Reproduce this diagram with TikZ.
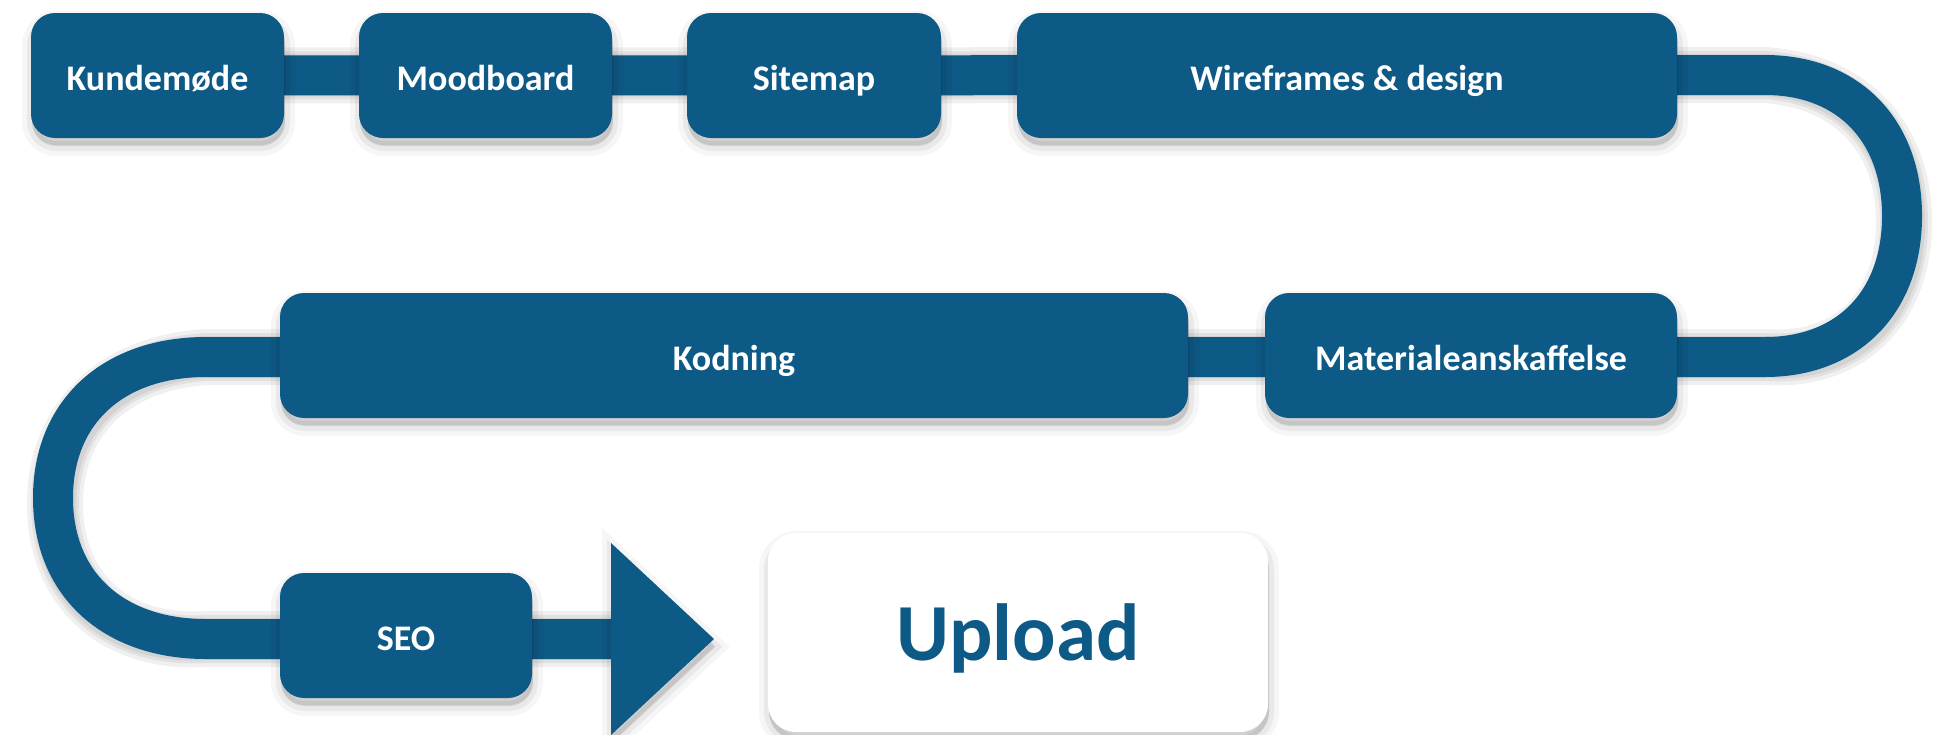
\documentclass[tikz,border=0pt]{standalone}
\usepackage{fontspec}
\setmainfont{Carlito}
\usetikzlibrary{shadows}
\definecolor{navy}{HTML}{0E5A86}
\pgfdeclarelayer{bg}
\pgfdeclarelayer{paper}
\pgfsetlayers{paper,bg,main}
\begin{document}
\begin{tikzpicture}[x=0.5pt,y=-0.5pt,
  boxshadow/.style={
    general shadow={fill=black, draw=black, line width=10pt, opacity=0.035, shadow xshift=0.5pt, shadow yshift=-4pt},
    general shadow={fill=black, draw=black, line width=5pt, opacity=0.05, shadow xshift=0.5pt, shadow yshift=-4pt},
    general shadow={fill=black, opacity=0.07, shadow xshift=0.5pt, shadow yshift=-3.5pt}},
  stepbox/.style={fill=navy, rounded corners=12pt, text=white,
    font=\bfseries\fontsize{18}{20}\selectfont, inner sep=0pt,
    minimum height=62.5pt, text height=16pt, text depth=1.5pt, boxshadow},
  endbox/.style={fill=white, rounded corners=14pt, text=navy,
    font=\bfseries\fontsize{40.5}{44}\selectfont, inner sep=0pt,
    minimum width=250pt, minimum height=99.5pt, text height=28pt, text depth=0pt, boxshadow},
  track/.style={draw=navy, line width=20pt},
  trackshadow/.style={draw=black, opacity=0.06, line width=#1},
  headshape/.style={fill=navy, boxshadow}
]
\useasboundingbox (0,0) rectangle (1946,734);
\begin{pgfonlayer}{paper}
  \fill[white] (0,0) rectangle (1946,734);
\end{pgfonlayer}

\node[stepbox, minimum width=126.5pt] (kunde) at (157.5,75.5) {Kundemøde};
\node[stepbox, minimum width=126.5pt] (mood)  at (485.5,75.5) {Moodboard};
\node[stepbox, minimum width=127pt]   (site)  at (814,75.5)   {Sitemap};
\node[stepbox, minimum width=330pt]   (wire)  at (1347,75.5)  {Wireframes \& design};
\node[stepbox, minimum width=206pt]   (mat)   at (1471,355.5) {Materialeanskaffelse};
\node[stepbox, minimum width=454pt]   (kod)   at (734,355.5)  {Kodning};
\node[stepbox, minimum width=126pt]   (seo)   at (406,635.5)  {SEO};
\node[endbox] (upload) at (1018,632.5) {Upload};

\coordinate (r1) at (1765,75);
\coordinate (r2) at (1765,357);
\coordinate (l1) at (206,357);
\coordinate (l2) at (206,639);
\coordinate (ab) at (612,639);

\def\trackpath{(kunde.center) -- (r1)
  .. controls (1848,75) and (1902,130) .. (1902,216)
  .. controls (1902,302) and (1848,357) .. (r2) -- (l1)
  .. controls (113,357) and (53,412) .. (53,498)
  .. controls (53,584) and (113,639) .. (l2) -- (ab)}

\begin{pgfonlayer}{bg}
  \begin{scope}[xshift=1pt, yshift=-3pt]
    \path[trackshadow=28pt] \trackpath;
    \path[trackshadow=24pt] \trackpath;
    \path[trackshadow=21pt] \trackpath;
  \end{scope}
  \path[track] \trackpath;
\end{pgfonlayer}

\path[headshape] (611,543) -- (714,639) -- (611,735) -- cycle;
\end{tikzpicture}
\end{document}
